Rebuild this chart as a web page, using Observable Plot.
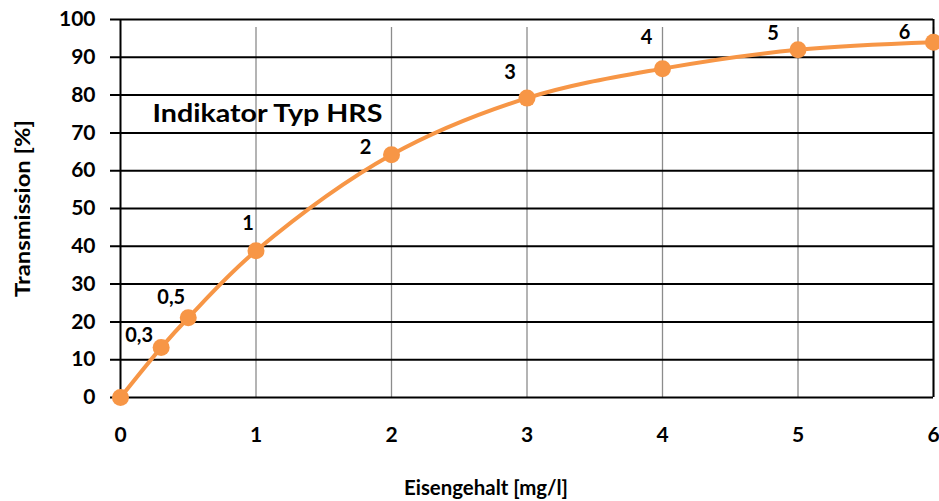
<!DOCTYPE html>
<html>
<head>
<meta charset="utf-8">
<script src="https://cdn.jsdelivr.net/npm/d3@7"></script>
<script src="https://cdn.jsdelivr.net/npm/@observablehq/plot@0.6"></script>
<style>
  html, body { margin: 0; padding: 0; background: #fff; }
  svg { font-family: Lato, "Open Sans", sans-serif; }
</style>
</head>
<body>
<div id="chart"></div>
<script>
// ---- data ----
const eisen = [0, 0.3, 0.5, 1, 2, 3, 4, 5, 6];
const transmission = [0, 13.2, 21.1, 38.8, 64.2, 79.2, 87, 92, 94];
const pointLabels = ["", "0,3", "0,5", "1", "2", "3", "4", "5", "6"];
const xTicks = [0, 1, 2, 3, 4, 5, 6];
const yTicks = [0, 10, 20, 30, 40, 50, 60, 70, 80, 90, 100];
const title = "Indikator Typ HRS";
const xLabel = "Eisengehalt [mg/l]";
const yLabel = "Transmission [%]";

// ---- style (label offsets in px) ----
const labelDx = [0, -22, -17, -8, -26, -17, -16, -25, -29];
const labelDy = [0, -12, -20, -27, -7, -26, -31, -16, -10];

const data = eisen.map((x, i) => ({x, y: transmission[i], label: pointLabels[i], i}));
const orange = "#F79646";

const marks = [
  Plot.ruleX(xTicks.filter(d => d !== 0), {x: d => d, y1: 0, y2: 100, stroke: "#8c8c8c", strokeWidth: 1.3, insetBottom: -8}),
  Plot.ruleY(yTicks, {y: d => d, stroke: "#000", strokeWidth: 2, insetLeft: -10}),
  Plot.ruleX([0, 6], {x: d => d, y1: 0, y2: 100, stroke: "#000", strokeWidth: 2}),
  Plot.line(data, {x: "x", y: "y", stroke: orange, strokeWidth: 4, curve: "catmull-rom"}),
  Plot.dot(data, {x: "x", y: "y", r: 8.5, fill: orange, stroke: "none"}),
  ...data.filter(d => d.label).map(d =>
    Plot.text([d], {x: "x", y: "y", text: "label", dx: labelDx[d.i], dy: labelDy[d.i],
      fontSize: 20, fontWeight: "bold", fill: "#000"})),
  Plot.text([title], {frameAnchor: "top-left", dx: 32, dy: 94, lineAnchor: "middle", textAnchor: "start",
    fontSize: 25, fontWeight: "bold", fill: "#000", className: "anno-title"}),
  Plot.text([xLabel], {frameAnchor: "bottom", dx: -41, dy: 91, lineAnchor: "middle", textAnchor: "middle",
    fontSize: 20, fontWeight: "bold", fill: "#000", className: "x-label"}),
  Plot.text([yLabel], {frameAnchor: "left", dx: -97, rotate: -90, lineAnchor: "middle", textAnchor: "middle",
    fontSize: 21, fontWeight: "bold", fill: "#000", className: "y-label"}),
  Plot.axisY(yTicks, {tickSize: 0, tickPadding: 25, fontSize: 21, fontWeight: "bold", color: "#000", label: null, tickFormat: d => String(d)}),
  Plot.axisX(xTicks, {tickSize: 0, tickPadding: 30, fontSize: 21, fontWeight: "bold", color: "#000", label: null, tickFormat: d => String(d)})
];

const chart = Plot.plot({
  width: 939,
  height: 501,
  marginLeft: 120,
  marginRight: 6,
  marginTop: 19,
  marginBottom: 104,
  x: {domain: [0, 6]},
  y: {domain: [0, 100]},
  style: {fontFamily: "Lato, 'Open Sans', sans-serif", background: "#fff", overflow: "visible"},
  marks
});
document.getElementById("chart").appendChild(chart);
// stretch the text widths to match the reference's wide lettering
const fit = (cls, len) => chart.querySelectorAll(`g.${cls} text`).forEach(t => {
  t.setAttribute("textLength", len);
  t.setAttribute("lengthAdjust", "spacingAndGlyphs");
});
fit("y-label", 177);
fit("x-label", 164);
fit("anno-title", 230);
</script>
</body>
</html>
